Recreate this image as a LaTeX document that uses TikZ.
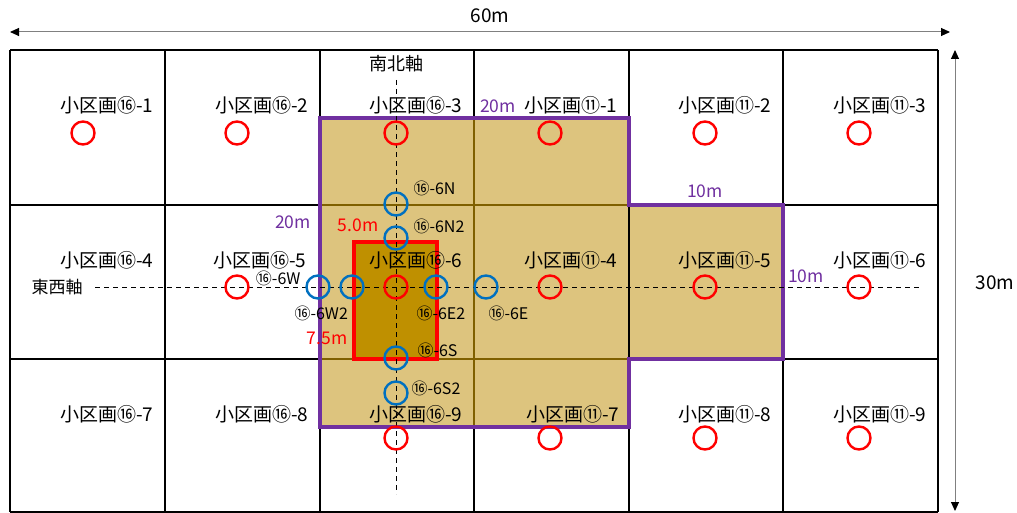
\documentclass[tikz,border=0pt]{standalone}
\usepackage{fontspec}
\setmainfont{Noto Sans CJK JP}
\usetikzlibrary{arrows.meta}
\definecolor{areaFill}{HTML}{DDC47E}
\definecolor{coreFill}{HTML}{BF9000}
\definecolor{edgeBrown}{HTML}{7F6000}
\definecolor{outlinePurple}{HTML}{7030A0}
\definecolor{holeBlue}{HTML}{0070C0}
\tikzset{
  cell label/.style={anchor=east,font=\fontsize{19}{19}\selectfont},
  pt label/.style={font=\fontsize{16}{16}\selectfont},
  dim label/.style={font=\fontsize{17.5}{17.5}\selectfont},
  red hole/.style={draw=red,circle,line width=2.4pt,minimum size=23pt,inner sep=0pt},
  blue hole/.style={draw=holeBlue,circle,line width=2.4pt,minimum size=23pt,inner sep=0pt},
  axis/.style={draw,line width=1pt,dash pattern=on 5pt off 4pt},
  span/.style={draw=gray,line width=1pt,{Triangle[color=black,length=9pt,width=8pt]}-{Triangle[color=black,length=9pt,width=8pt]}}
}
\begin{document}
\begin{tikzpicture}[x=1pt,y=-1pt]
\useasboundingbox[fill=white] (0,0) rectangle (1017,513);

% grid
\foreach \x in {10,165,320,474,629,783,938}
  \draw[line width=1.3pt] (\x,50) -- (\x,512);
\foreach \y in {50,205,359,512}
  \draw[line width=1.3pt] (10,\y) -- (938,\y);

% area
\fill[areaFill] (320,118) -- (629,118) -- (629,205) -- (783,205) -- (783,359)
  -- (629,359) -- (629,427) -- (320,427) -- cycle;
\draw[edgeBrown,line width=1.3pt] (474,118) -- (474,427);
\draw[edgeBrown,line width=1.3pt] (320,205) -- (629,205);
\draw[edgeBrown,line width=1.3pt] (320,359) -- (629,359);
\draw[black,line width=1.3pt] (629,205) -- (629,359);
\draw[red,fill=coreFill,line width=3.5pt] (354,242) rectangle (437,359);
\draw[outlinePurple,line width=3.5pt] (320,118) -- (629,118) -- (629,205) -- (783,205) -- (783,359)
  -- (629,359) -- (629,427) -- (320,427) -- cycle;

% axes
\node[font=\fontsize{18}{18}\selectfont] (ns) at (396,64) {南北軸};
\node[font=\fontsize{17}{17}\selectfont] (ew) at (57,287) {東西軸};
\coordinate (ns0) at (396,80);
\coordinate (ns1) at (396,494);
\coordinate (ew0) at (95,287);
\coordinate (ew1) at (922,287);
\path[axis] (ns0) -- (ns1);
\path[axis] (ew0) -- (ew1);

% dimensions
\coordinate (w0) at (10,32);
\coordinate (w1) at (950,32);
\coordinate (h0) at (955,50);
\coordinate (h1) at (955,511);
\path[span] (w0) -- (w1);
\path[span] (h0) -- (h1);
\node[dim label,font=\fontsize{19}{19}\selectfont] (wlen) at (490,16) {60m};
\node[dim label,font=\fontsize{19}{19}\selectfont] (hlen) at (995,283) {30m};

% red holes
\node[red hole] (r1) at (83,133) {};
\node[red hole] (r2) at (237,133) {};
\node[red hole] (r3) at (396,133) {};
\node[red hole] (r4) at (550,133) {};
\node[red hole] (r5) at (705,133) {};
\node[red hole] (r6) at (859,133) {};
\node[red hole] (r7) at (237,287) {};
\node[red hole] (r8) at (396,287) {};
\node[red hole] (r9) at (550,287) {};
\node[red hole] (r10) at (705,287) {};
\node[red hole] (r11) at (859,287) {};
\node[red hole] (r12) at (396,438) {};
\node[red hole] (r13) at (550,438) {};
\node[red hole] (r14) at (705,438) {};
\node[red hole] (r15) at (859,438) {};

% blue holes
\node[blue hole] (n) at (396,204) {};
\node[blue hole] (n2) at (396,238) {};
\node[blue hole] (w) at (318,287) {};
\node[blue hole] (w2) at (352,287) {};
\node[blue hole] (e2) at (436,287) {};
\node[blue hole] (e) at (486,287) {};
\node[blue hole] (s) at (396,358) {};
\node[blue hole] (s2) at (396,393) {};

\node[pt label,anchor=west] (nl) at (410,188) {⑯-6N};
\node[pt label,anchor=west] (n2l) at (410,226) {⑯-6N2};
\node[pt label,anchor=east] (wl) at (304,278) {⑯-6W};
\node[pt label,anchor=west] (w2l) at (291,313) {⑯-6W2};
\node[pt label,anchor=west] (e2l) at (413,313) {⑯-6E2};
\node[pt label,anchor=west] (el) at (485,313) {⑯-6E};
\node[pt label,anchor=west] (sl) at (414,350) {⑯-6S};
\node[pt label,anchor=west] (s2l) at (408,388) {⑯-6S2};

% cell labels
\node[cell label] (c1) at (157,105) {小区画⑯-1};
\node[cell label] (c2) at (312,105) {小区画⑯-2};
\node[cell label] (c3) at (466,105) {小区画⑯-3};
\node[cell label] (c4) at (621,105) {小区画⑪-1};
\node[cell label] (c5) at (775,105) {小区画⑪-2};
\node[cell label] (c6) at (930,105) {小区画⑪-3};
\node[cell label] (c7) at (157,260) {小区画⑯-4};
\node[cell label] (c8) at (310,260) {小区画⑯-5};
\node[cell label] (c9) at (466,260) {小区画⑯-6};
\node[cell label] (c10) at (621,260) {小区画⑪-4};
\node[cell label] (c11) at (775,260) {小区画⑪-5};
\node[cell label] (c12) at (930,260) {小区画⑪-6};
\node[cell label] (c13) at (157,414) {小区画⑯-7};
\node[cell label] (c14) at (312,414) {小区画⑯-8};
\node[cell label] (c15) at (466,414) {小区画⑯-9};
\node[cell label] (c16) at (623,414) {小区画⑪-7};
\node[cell label] (c17) at (775,414) {小区画⑪-8};
\node[cell label] (c18) at (930,414) {小区画⑪-9};

% lengths
\node[dim label,text=outlinePurple] (d1) at (498,106) {20m};
\node[dim label,text=outlinePurple] (d2) at (705,191) {10m};
\node[dim label,text=outlinePurple] (d3) at (293,222) {20m};
\node[dim label,text=outlinePurple] (d4) at (806,276) {10m};
\node[dim label,text=red] (d5) at (358,225) {5.0m};
\node[dim label,text=red] (d6) at (327,338) {7.5m};

\end{tikzpicture}
\end{document}
